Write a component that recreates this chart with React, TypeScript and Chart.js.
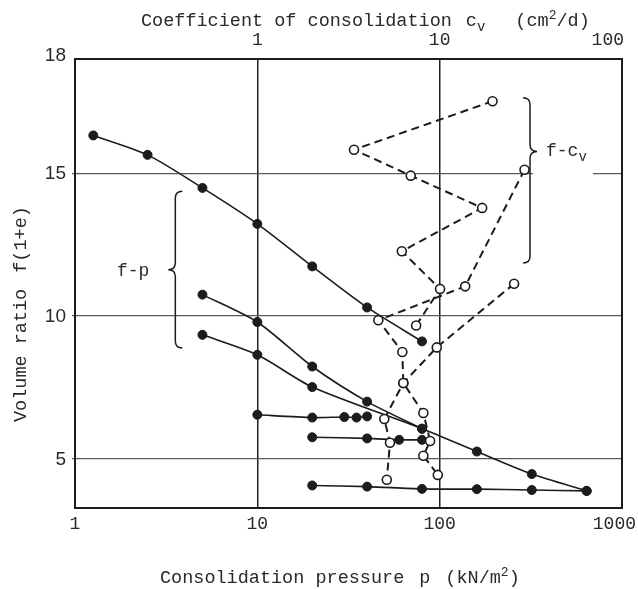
import React, { useEffect, useRef } from 'react';
import { Chart, registerables } from 'chart.js';
Chart.register(...registerables);

const W = 638;
const H = 589;
const INK = '#1c1c1c';
const MONO = '"Liberation Mono", "DejaVu Sans Mono", monospace';
const SANS = '"Liberation Sans", Arial, sans-serif';

// ---- f-p curves: consolidation pressure p (kN/m2) vs volume ratio f ----
const fpA_p = [1.26, 2.5, 5, 10, 20, 40, 80];
const fpA_f = [16.32, 15.64, 14.48, 13.22, 11.73, 10.29, 9.1];
const fpB_p = [5, 10, 20, 40, 80];
const fpB_f = [10.74, 9.78, 8.22, 6.99, 6.04];
const fpC_p = [5, 10, 20, 80, 160, 320, 640];
const fpC_f = [9.33, 8.63, 7.5, 6.04, 5.24, 4.45, 3.86];
const fpD_p = [10, 20, 30, 35, 40];
const fpD_f = [6.53, 6.43, 6.45, 6.43, 6.47];
const fpE_p = [20, 40, 60, 80];
const fpE_f = [5.74, 5.7, 5.65, 5.65];
const fpF_p = [20, 40, 80, 160, 320, 640];
const fpF_f = [4.05, 4.01, 3.93, 3.92, 3.89, 3.86];

// ---- f-cv curves: coefficient of consolidation cv (cm2/d) vs f ----
const cv1_c = [19.5, 3.39, 6.94, 17.1, 6.2, 10.05, 7.43];
const cv1_f = [17.52, 15.82, 14.91, 13.78, 12.26, 10.94, 9.66];
const cv2_c = [29.2, 13.8, 4.61, 6.24, 6.32, 8.14, 8.86, 8.14, 9.77];
const cv2_f = [15.12, 11.03, 9.84, 8.73, 7.64, 6.59, 5.61, 5.09, 4.42];
const cv3_c = [25.6, 9.64, 6.32, 4.97, 5.34, 5.13];
const cv3_f = [11.12, 8.89, 7.64, 6.38, 5.55, 4.25];

// ---- axes ----
const P_MIN = 1;
const P_MAX = 1000;
const CV_MIN = 0.1;
const CV_MAX = 100;
const Y_MIN = 3.26;
const Y_MAX = 19.0;
const pGrid = [10, 100];
const pTickVals = [1, 10, 100, 1000];
const pTickLabels = ['1', '10', '100', '1000'];
const cvTickVals = [1, 10, 100];
const cvTickLabels = ['1', '10', '100'];
const yTickVals = [5, 10, 15];
const yTickLabels = ['5', '10', '15'];
const yTopLabel = '18';

type Piece = { t: string; size: number; dy?: number; gap?: number };

function drawRich(ctx: CanvasRenderingContext2D, pieces: Piece[], x: number, y: number, family: string) {
  let cx = x;
  for (const p of pieces) {
    cx += p.gap || 0;
    ctx.font = `${p.size}px ${family}`;
    ctx.fillText(p.t, cx, y + (p.dy || 0));
    cx += ctx.measureText(p.t).width;
  }
}

function drawBrace(ctx: CanvasRenderingContext2D, x: number, y1: number, y2: number, ym: number, dir: number, r: number) {
  const e = -dir * r; // ends curl opposite to tip
  const t = dir * r;
  ctx.beginPath();
  ctx.moveTo(x + e, y1);
  ctx.quadraticCurveTo(x, y1, x, y1 + r);
  ctx.lineTo(x, ym - r);
  ctx.quadraticCurveTo(x, ym, x + t, ym);
  ctx.quadraticCurveTo(x, ym, x, ym + r);
  ctx.lineTo(x, y2 - r);
  ctx.quadraticCurveTo(x, y2, x + e, y2);
  ctx.stroke();
}

const solid = (p: number[], f: number[]) => ({
  data: p.map((x, i) => ({ x, y: f[i] })),
  xAxisID: 'x',
  yAxisID: 'y',
  borderColor: INK,
  borderWidth: 1.6,
  pointRadius: 4.5,
  pointBackgroundColor: INK,
  pointBorderColor: INK,
  pointBorderWidth: 1,
  tension: 0.25,
  fill: false,
});

const dashed = (c: number[], f: number[]) => ({
  data: c.map((x, i) => ({ x, y: f[i] })),
  xAxisID: 'x2',
  yAxisID: 'y',
  borderColor: INK,
  borderWidth: 2,
  borderDash: [8, 5],
  pointRadius: 4.5,
  pointBackgroundColor: '#ffffff',
  pointBorderColor: INK,
  pointBorderWidth: 1.6,
  tension: 0,
  fill: false,
});

const decorPlugin = {
  id: 'decor',
  afterDraw(chart: any) {
    const ctx: CanvasRenderingContext2D = chart.ctx;
    const xs = chart.scales.x;
    const cs = chart.scales.x2;
    const ys = chart.scales.y;
    const area = chart.chartArea;
    ctx.save();
    ctx.fillStyle = '#2a2a2a';
    ctx.strokeStyle = INK;

    // bottom tick labels
    ctx.font = `18px ${MONO}`;
    ctx.textBaseline = 'middle';
    ctx.textAlign = 'center';
    pTickVals.forEach((v, i) => {
      const w = ctx.measureText(pTickLabels[i]).width;
      const px = Math.min(xs.getPixelForValue(v), W - 2 - w / 2);
      ctx.fillText(pTickLabels[i], px, area.bottom + 16);
    });
    // top tick labels
    cvTickVals.forEach((v, i) => {
      const w = ctx.measureText(cvTickLabels[i]).width;
      const px = Math.min(cs.getPixelForValue(v), area.right + 2 - w / 2);
      ctx.fillText(cvTickLabels[i], px, area.top - 19);
    });
    // left tick labels
    ctx.font = `19px ${SANS}`;
    ctx.textAlign = 'right';
    yTickVals.forEach((v, i) => {
      ctx.fillText(yTickLabels[i], area.left - 9, ys.getPixelForValue(v) + 1);
    });
    ctx.fillText(yTopLabel, area.left - 9, area.top - 3);

    // titles
    ctx.textAlign = 'left';
    ctx.textBaseline = 'alphabetic';
    drawRich(ctx, [
      { t: 'Coefficient of consolidation', size: 18.5 },
      { t: 'c', size: 18.5, gap: 14 },
      { t: 'v', size: 14, dy: 5 },
      { t: '(cm', size: 18.5, gap: 30 },
      { t: '2', size: 13, dy: -7 },
      { t: '/d)', size: 18.5 },
    ], 141, 26, MONO);
    drawRich(ctx, [
      { t: 'Consolidation pressure', size: 18.5 },
      { t: 'p', size: 18.5, gap: 15 },
      { t: '(kN/m', size: 18.5, gap: 15 },
      { t: '2', size: 13, dy: -7 },
      { t: ')', size: 18.5 },
    ], 160, 583, MONO);
    ctx.save();
    ctx.translate(26, 422);
    ctx.rotate(-Math.PI / 2);
    drawRich(ctx, [
      { t: 'Volume ratio', size: 18.5 },
      { t: 'f(1+e)', size: 18.5, gap: 16 },
    ], 0, 0, MONO);
    ctx.restore();

    // gap in the 15 grid line behind the f-cv label
    const gy = ys.getPixelForValue(15);
    ctx.fillStyle = '#ffffff';
    ctx.fillRect(xs.getPixelForValue(325), gy - 2, xs.getPixelForValue(694) - xs.getPixelForValue(325), 4);
    ctx.fillStyle = '#2a2a2a';

    // braces
    ctx.lineWidth = 1.5;
    const bx1 = xs.getPixelForValue(3.55);
    const by1 = ys.getPixelForValue(14.36);
    const by2 = ys.getPixelForValue(8.87);
    const bym = (by1 + by2) / 2;
    drawBrace(ctx, bx1, by1, by2, bym, -1, 7);
    ctx.font = `18px ${MONO}`;
    ctx.textAlign = 'right';
    ctx.textBaseline = 'middle';
    ctx.fillText('f-p', bx1 - 26, bym + 2);

    const bx2 = xs.getPixelForValue(313);
    const cy1 = ys.getPixelForValue(17.64);
    const cy2 = ys.getPixelForValue(11.85);
    const cym = ys.getPixelForValue(15.76);
    drawBrace(ctx, bx2, cy1, cy2, cym, 1, 7);
    ctx.textAlign = 'left';
    ctx.textBaseline = 'alphabetic';
    drawRich(ctx, [
      { t: 'f-c', size: 18 },
      { t: 'v', size: 14, dy: 5 },
    ], bx2 + 16, cym + 5, MONO);

    ctx.restore();
  },
};

export default function App() {
  const ref = useRef<HTMLCanvasElement>(null);
  useEffect(() => {
    const canvas = ref.current;
    if (!canvas) return;
    const chart = new Chart(canvas, {
      type: 'line',
      data: {
        datasets: [
          dashed(cv1_c, cv1_f),
          dashed(cv2_c, cv2_f),
          dashed(cv3_c, cv3_f),
          solid(fpA_p, fpA_f),
          solid(fpB_p, fpB_f),
          solid(fpC_p, fpC_f),
          solid(fpD_p, fpD_f),
          solid(fpE_p, fpE_f),
          solid(fpF_p, fpF_f),
        ] as any,
      },
      options: {
        responsive: false,
        animation: false,
        events: [],
        layout: { padding: 0 },
        plugins: { legend: { display: false }, tooltip: { enabled: false } },
        scales: {
          x: {
            type: 'logarithmic',
            position: 'bottom',
            min: P_MIN,
            max: P_MAX,
            afterBuildTicks: (s: any) => { s.ticks = pGrid.map((v) => ({ value: v })); },
            afterFit: (s: any) => { s.height = 81; s.paddingLeft = 0; s.paddingRight = 0; },
            ticks: { display: false },
            grid: { color: '#222', lineWidth: 1.5, drawTicks: false },
            border: { color: INK, width: 2 },
          },
          x2: {
            type: 'logarithmic',
            position: 'top',
            axis: 'x',
            min: CV_MIN,
            max: CV_MAX,
            afterBuildTicks: (s: any) => { s.ticks = cvTickVals.map((v) => ({ value: v })); },
            afterFit: (s: any) => { s.height = 59; s.paddingLeft = 0; s.paddingRight = 0; },
            ticks: { display: false },
            grid: { display: false, drawTicks: false },
            border: { color: INK, width: 2 },
          },
          y: {
            type: 'linear',
            position: 'left',
            min: Y_MIN,
            max: Y_MAX,
            afterBuildTicks: (s: any) => { s.ticks = yTickVals.map((v) => ({ value: v })); },
            afterFit: (s: any) => { s.width = 75; s.paddingTop = 0; s.paddingBottom = 0; },
            ticks: { display: false },
            grid: { color: '#5a5a5a', lineWidth: 1.2, drawTicks: true, tickLength: 3 },
            border: { color: INK, width: 2 },
          },
          y2: {
            type: 'linear',
            position: 'right',
            axis: 'y',
            min: Y_MIN,
            max: Y_MAX,
            afterFit: (s: any) => { s.width = 16; s.paddingTop = 0; s.paddingBottom = 0; },
            ticks: { display: false },
            grid: { display: false, drawTicks: false },
            border: { color: INK, width: 2 },
          },
        },
      } as any,
      plugins: [decorPlugin],
    });
    return () => chart.destroy();
  }, []);
  return (
    <div style={{ position: 'absolute', left: 0, top: 0, width: W, height: H, background: '#fff' }}>
      <canvas ref={ref} width={W} height={H} style={{ display: 'block', width: W, height: H }} />
    </div>
  );
}
